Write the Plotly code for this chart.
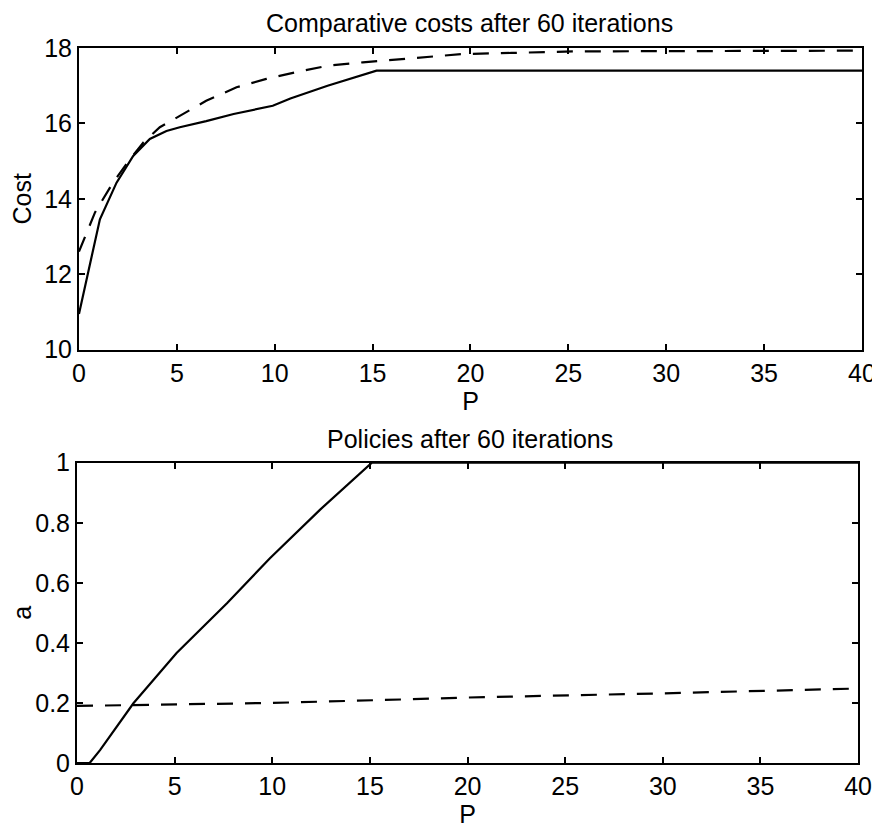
import plotly.graph_objects as go

# Top panel: Comparative costs
p_cost_solid = [0, 0.4, 1.07, 1.92, 2.77, 3.62, 4.47, 5.15, 6.5, 7.9, 9.9, 10.8, 12.7, 15.2, 40]
cost_solid = [10.95, 11.86, 13.46, 14.43, 15.14, 15.59, 15.8, 15.9, 16.06, 16.25, 16.47, 16.66, 17.0, 17.4, 17.4]

p_cost_dash = [0, 0.82, 1.7, 2.6, 3.3, 4.13, 5.15, 6.5, 8.05, 9.57, 11.1, 12.7, 14.5, 16.2, 17.9, 19.6, 22.1, 25.4, 40]
cost_dash = [12.6, 13.64, 14.4, 15.05, 15.5, 15.9, 16.2, 16.6, 16.96, 17.18, 17.36, 17.53, 17.62, 17.69, 17.78, 17.84, 17.87, 17.91, 17.93]

# Bottom panel: Policies
p_pol_solid = [0, 0.65, 1.18, 2.89, 5.1, 7.68, 9.88, 12.44, 15.1, 40]
a_solid = [0, 0, 0.043, 0.199, 0.366, 0.532, 0.682, 0.843, 1.0, 1.0]

p_pol_dash = [0, 10, 16.9, 20, 30, 38.3, 40]
a_dash = [0.19, 0.20, 0.212, 0.218, 0.232, 0.246, 0.248]

x_ticks = [0, 5, 10, 15, 20, 25, 30, 35, 40]
cost_ticks = [10, 12, 14, 16, 18]
a_ticks = [0, 0.2, 0.4, 0.6, 0.8, 1]
a_tick_text = ["0", "0.2", "0.4", "0.6", "0.8", "1"]

FONT = "Liberation Sans, Arial, sans-serif"
FS = 25
FT = 25
line_w = 2.2
dash_pat = "16px,12px"

fig = go.Figure()
fig.add_trace(go.Scatter(x=p_cost_solid, y=cost_solid, mode="lines",
                         line=dict(color="black", width=line_w), xaxis="x", yaxis="y"))
fig.add_trace(go.Scatter(x=p_cost_dash, y=cost_dash, mode="lines",
                         line=dict(color="black", width=line_w, dash=dash_pat), xaxis="x", yaxis="y"))
fig.add_trace(go.Scatter(x=p_pol_solid, y=a_solid, mode="lines",
                         line=dict(color="black", width=line_w), xaxis="x2", yaxis="y2"))
fig.add_trace(go.Scatter(x=p_pol_dash, y=a_dash, mode="lines",
                         line=dict(color="black", width=line_w, dash=dash_pat), xaxis="x2", yaxis="y2"))

axis_common = dict(showline=True, linecolor="black", linewidth=2, mirror="ticks",
                   ticks="inside", ticklen=6, tickwidth=1.5, tickcolor="black",
                   showgrid=False, zeroline=False, automargin=False,
                   ticklabeloverflow="allow",
                   tickfont=dict(family=FONT, size=FS, color="black"))

title_font = dict(family=FONT, size=FT, color="black")

# plot area: x 77..862, y 48..763 in the 880x832 page (page has an 8px body margin)
fig.update_layout(
    width=872, height=824,
    margin=dict(l=69, r=18, t=40, b=69),
    paper_bgcolor="white", plot_bgcolor="white",
    showlegend=False,
    xaxis=dict(domain=[0.0025, 1.0], anchor="y", range=[0, 40], tickvals=x_ticks,
               title=dict(text="P", font=title_font, standoff=3),
               **axis_common),
    yaxis=dict(domain=[0.578, 1.0], anchor="x", range=[10, 18], tickvals=cost_ticks,
               title=dict(text="Cost", font=title_font, standoff=6),
               **axis_common),
    xaxis2=dict(domain=[0.0, 0.995], anchor="y2", range=[0, 40], tickvals=x_ticks,
                title=dict(text="P", font=title_font, standoff=5),
                **axis_common),
    yaxis2=dict(domain=[0.0, 0.42], anchor="x2", range=[0, 1], tickvals=a_ticks, ticktext=a_tick_text,
                title=dict(text="a", font=title_font, standoff=10),
                **axis_common),
    annotations=[
        dict(text="Comparative costs after 60 iterations", x=0.5, y=1.0, xref="paper", yref="paper",
             xanchor="center", yanchor="bottom", yshift=9, showarrow=False,
             font=title_font),
        dict(text="Policies after 60 iterations", x=0.5, y=0.42, xref="paper", yref="paper",
             xanchor="center", yanchor="bottom", yshift=8, showarrow=False,
             font=title_font),
    ],
)

fig.write_html("out.html")
